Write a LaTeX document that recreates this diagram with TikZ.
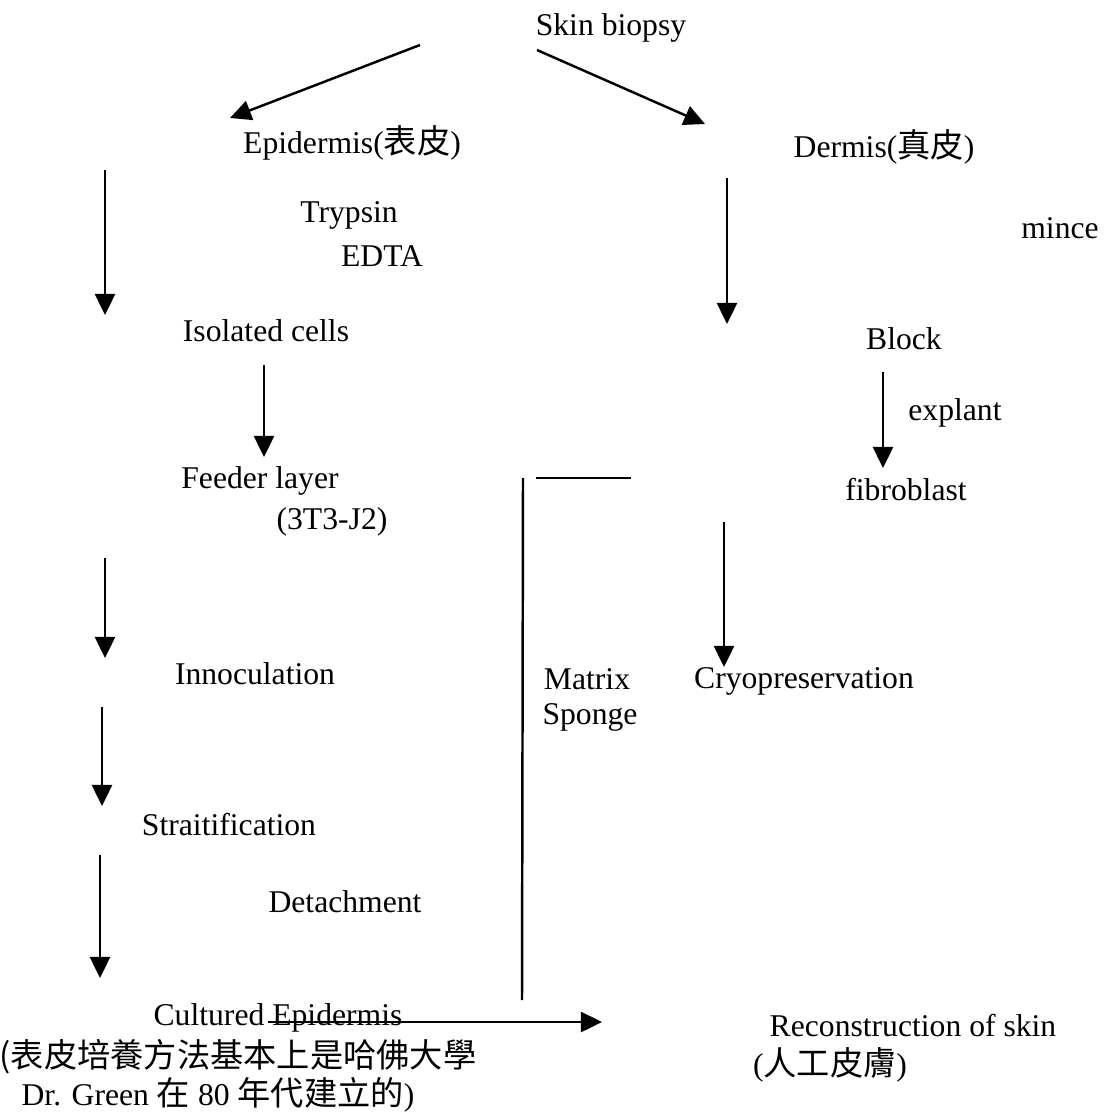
\documentclass[tikz,border=0pt]{standalone}
\usepackage{fontspec}
\setmainfont{Liberation Serif}
\newfontfamily\cjk[Scale=1.05]{Noto Sans CJK TC}
\usetikzlibrary{arrows.meta}
\tikzset{
  lbl/.style={inner sep=0pt, font=\fontsize{9}{11}\selectfont},
  flow/.style={line width=0.7pt, -{Triangle[length=0.21cm,width=0.2cm]}},
  bar/.style={line width=0.7pt}
}

\begin{document}
\begin{tikzpicture}[x=0.01cm,y=-0.01cm]
  \useasboundingbox (0,0) rectangle (1105,1115);

  % top
  \node[lbl] (biopsy) at (611,28) {Skin biopsy};
  \node[lbl] (epi) at (352,143) {Epidermis({\cjk 表皮})};
  \node[lbl] (derm) at (884,147) {Dermis({\cjk 真皮})};
  \coordinate (bl) at (420,45);
  \coordinate (el) at (230,118);
  \coordinate (br) at (537,50);
  \coordinate (er) at (705,124);
  \draw[flow] (bl) -- (el);
  \draw[flow] (br) -- (er);

  % epidermis branch
  \node[lbl] (trypsin) at (349,215) {Trypsin};
  \node[lbl] (edta) at (382,256) {EDTA};
  \node[lbl] (isol) at (266,331) {Isolated cells};
  \node[lbl] (feeder) at (260,481) {Feeder layer};
  \node[lbl] (jtwo) at (332,522) {(3T3-J2)};
  \node[lbl] (inoc) at (255,674) {Innoculation};
  \node[lbl] (strat) at (229,825) {Straitification};
  \node[lbl] (detach) at (345,902) {Detachment};
  \node[lbl] (cult) at (278,1018) {Cultured Epidermis};
  \node[lbl] (note1) at (238,1057) {\cjk (表皮培養方法基本上是哈佛大學};
  \node[lbl] (note2) at (218,1095) {Dr. Green {\cjk 在} 80 {\cjk 年代建立的})};

  \coordinate (a1) at (105,170);  \coordinate (a2) at (105,315);
  \coordinate (a3) at (264,365);  \coordinate (a4) at (264,457);
  \coordinate (a5) at (105,558);  \coordinate (a6) at (105,658);
  \coordinate (a7) at (102,707);  \coordinate (a8) at (102,806);
  \coordinate (a9) at (100,855);  \coordinate (a10) at (100,978);
  \draw[flow] (a1) -- (a2);
  \draw[flow] (a3) -- (a4);
  \draw[flow] (a5) -- (a6);
  \draw[flow] (a7) -- (a8);
  \draw[flow] (a9) -- (a10);

  % dermis branch
  \node[lbl] (mince) at (1060,228) {mince};
  \node[lbl] (block) at (904,339) {Block};
  \node[lbl] (explant) at (955,413) {explant};
  \node[lbl] (fibro) at (906,490) {fibroblast};
  \node[lbl] (cryo) at (804,681) {Cryopreservation};

  \coordinate (d1) at (727,178);  \coordinate (d2) at (727,324);
  \coordinate (d3) at (883,372);  \coordinate (d4) at (883,468);
  \coordinate (d5) at (724,522);  \coordinate (d6) at (724,667);
  \draw[flow] (d1) -- (d2);
  \draw[flow] (d3) -- (d4);
  \draw[flow] (d5) -- (d6);

  % matrix sponge
  \node[lbl] (matrix) at (587,679) {Matrix};
  \node[lbl] (sponge) at (590,717) {Sponge};
  \coordinate (m1) at (523,478);  \coordinate (m2) at (522,1000);
  \coordinate (m3) at (536,478);  \coordinate (m4) at (631,478);
  \draw[bar] (m1) -- (m2);
  \draw[bar] (m3) -- (m4);

  % reconstruction
  \node[lbl] (recon) at (913,1025) {Reconstruction of skin};
  \node[lbl] (artif) at (830,1065) {({\cjk 人工皮膚})};
  \coordinate (c1) at (268,1022);  \coordinate (c2) at (602,1022);
  \draw[flow] (c1) -- (c2);
\end{tikzpicture}
\end{document}
